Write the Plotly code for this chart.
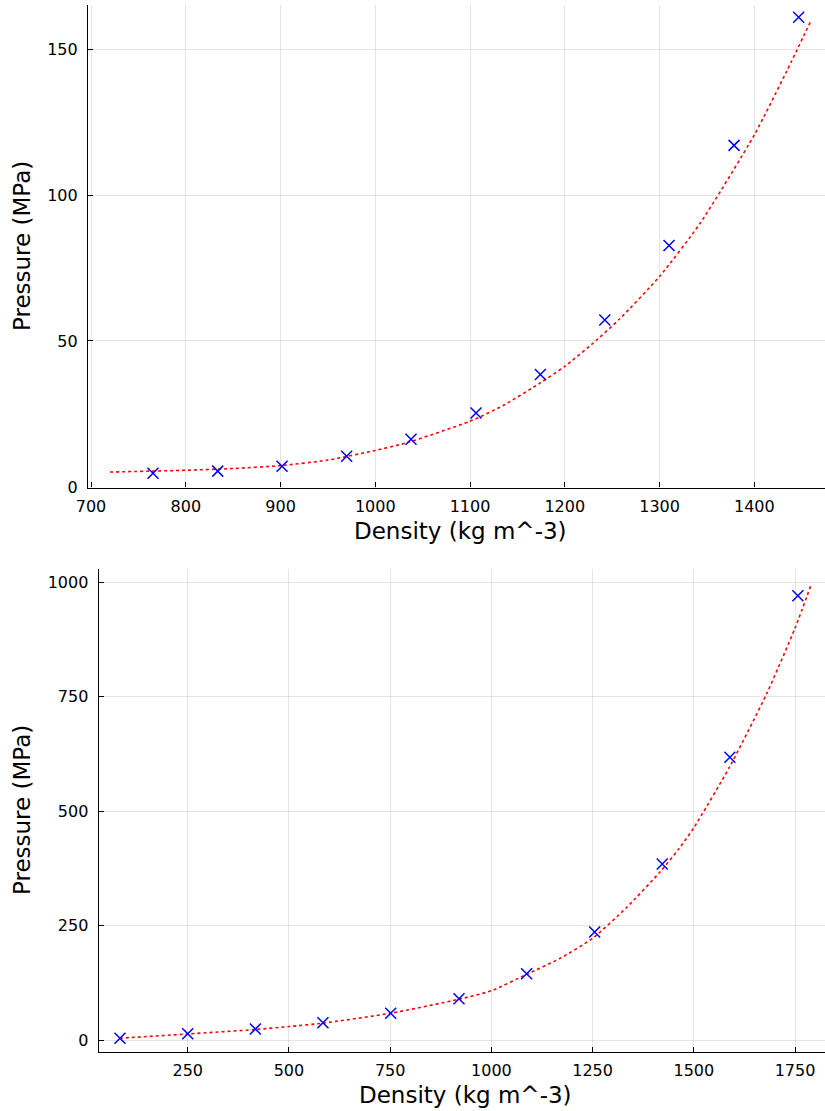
import plotly.graph_objects as go

# ---- Top panel data ----
top_density = [765.4, 833.7, 901.6, 969.8, 1037.7, 1106.3, 1174.2, 1242.2, 1310.0, 1378.6, 1446.8]
top_pressure = [4.7, 5.4, 7.1, 10.5, 16.3, 25.3, 38.5, 57.2, 82.7, 117.0, 160.9]
top_fit_x = [720, 800, 850, 900, 950, 1000, 1033, 1100, 1135, 1174, 1200, 1230, 1258, 1300, 1343, 1400, 1434, 1460]
top_fit_y = [5.1, 5.7, 6.3, 7.3, 9.2, 12.5, 15.1, 22.5, 27.9, 35.6, 41.3, 49.3, 57.6, 72.1, 90.4, 120.6, 142.3, 159.9]

# ---- Bottom panel data ----
bot_density = [82.7, 250, 417, 584, 751.3, 920, 1087, 1255, 1422, 1589, 1757]
bot_pressure = [4.4, 14.4, 24.7, 38.5, 59.0, 90.8, 145.4, 236.5, 385.0, 618.0, 970.7]
bot_fit_x = [82, 250, 417, 500, 584, 750, 919, 1000, 1087, 1170, 1250, 1334, 1417, 1463, 1500, 1589, 1680, 1750, 1791]
bot_fit_y = [4.5, 13.8, 23.5, 30.0, 37.5, 58.9, 89.5, 108.3, 144.0, 179.0, 222.7, 290.0, 368.0, 418.0, 464.0, 598.0, 757.0, 900.0, 997.8]

top_xticks = [700, 800, 900, 1000, 1100, 1200, 1300, 1400]
top_yticks = [0, 50, 100, 150]
bot_xticks = [250, 500, 750, 1000, 1250, 1500, 1750]
bot_yticks = [0, 250, 500, 750, 1000]

x_title = "Density (kg m^-3)"
y_title = "Pressure (MPa)"

W, H = 825, 1111
FONT = "DejaVu Sans"

fig = go.Figure()

line_style = dict(color="red", width=1.6, dash="dot", shape="spline", smoothing=0.6)
marker_style = dict(symbol="x-thin", size=11, color="blue", line=dict(color="blue", width=1.5))

fig.add_trace(go.Scatter(x=top_fit_x, y=top_fit_y, mode="lines", line=line_style,
                         xaxis="x", yaxis="y", showlegend=False))
fig.add_trace(go.Scatter(x=top_density, y=top_pressure, mode="markers", marker=marker_style,
                         xaxis="x", yaxis="y", showlegend=False))
fig.add_trace(go.Scatter(x=bot_fit_x, y=bot_fit_y, mode="lines", line=line_style,
                         xaxis="x2", yaxis="y2", showlegend=False))
fig.add_trace(go.Scatter(x=bot_density, y=bot_pressure, mode="markers", marker=marker_style,
                         xaxis="x2", yaxis="y2", showlegend=False))

def ax(**kw):
    base = dict(
        showline=True, linecolor="black", linewidth=1.2, mirror=False,
        ticks="inside", ticklen=5, tickcolor="black", tickwidth=1,
        showgrid=True, gridcolor="rgba(0,0,0,0.1)", gridwidth=1,
        zeroline=False, tickfont=dict(family=FONT, size=16, color="black"),
        tickmode="array", automargin=False,
    )
    base.update(kw)
    return base

title_font = dict(family=FONT, size=23, color="black")

fig.update_layout(
    width=W, height=H,
    margin=dict(l=0, r=0, t=0, b=0),
    paper_bgcolor="white", plot_bgcolor="white",
    font=dict(family=FONT, color="black"),
    xaxis=ax(domain=[88 / W, 1.0], range=[696.8, 1474.6], tickvals=top_xticks,
             anchor="y", ticklabelstandoff=4),
    yaxis=ax(domain=[1 - 487.5 / H, 1 - 4.7 / H], range=[-0.2, 165.2], tickvals=top_yticks,
             anchor="x", ticklabelstandoff=6),
    xaxis2=ax(domain=[98.7 / W, 1.0], range=[30.1, 1824], tickvals=bot_xticks,
              anchor="y2", ticklabelstandoff=4),
    yaxis2=ax(domain=[1 - 1051.7 / H, 1 - 569.3 / H], range=[-24.9, 1028.4], tickvals=bot_yticks,
              anchor="x2", ticklabelstandoff=6),
)

def title_ann(text, x_px, y_px, angle=0):
    return dict(text=text, x=x_px / W, y=1 - y_px / H, xref="paper", yref="paper",
                xanchor="center", yanchor="middle", showarrow=False,
                textangle=angle, font=title_font)

fig.update_layout(annotations=[
    title_ann(x_title, 460.5, 531),
    title_ann(y_title, 22, 246, -90),
    title_ann(x_title, 465, 1095),
    title_ann(y_title, 22, 810, -90),
])

fig.write_html("out.html")
